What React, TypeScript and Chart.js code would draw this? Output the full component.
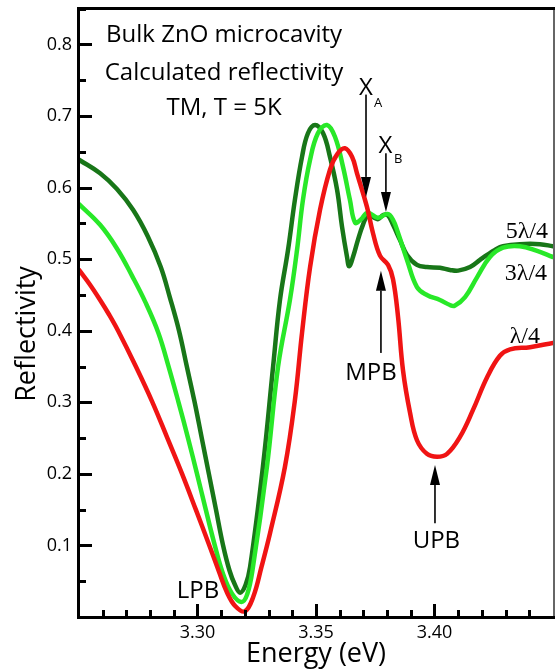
import React, { useEffect, useRef } from "react";
import { Chart, registerables } from "chart.js";

Chart.register(...registerables);

// ---- Data (energy in eV, reflectivity) ----
// 5λ/4 cavity (dark green)
const energy5 = [3.25, 3.2589, 3.266, 3.2728, 3.279, 3.2845, 3.2883, 3.2922, 3.2955, 3.2988, 3.3018, 3.3048, 3.3078, 3.3108, 3.3135, 3.3158, 3.318, 3.3203, 3.3222, 3.3276, 3.3319, 3.3348, 3.3382, 3.3411, 3.3441, 3.3466, 3.3496, 3.353, 3.3559, 3.3589, 3.361, 3.3631, 3.364, 3.3656, 3.3677, 3.3698, 3.372, 3.3745, 3.3762, 3.3785, 3.3804, 3.3825, 3.3854, 3.3884, 3.3926, 3.3968, 3.4023, 3.4065, 3.41, 3.415, 3.4192, 3.4222, 3.4255, 3.4289, 3.436, 3.4445, 3.45];
const refl5 = [0.639, 0.62, 0.598, 0.569, 0.532, 0.489, 0.447, 0.4, 0.35, 0.3, 0.25, 0.2, 0.15, 0.1, 0.065, 0.045, 0.034, 0.045, 0.07, 0.21, 0.35, 0.443, 0.513, 0.583, 0.643, 0.676, 0.6875, 0.676, 0.643, 0.597, 0.545, 0.503, 0.49, 0.503, 0.527, 0.548, 0.562, 0.558, 0.556, 0.562, 0.561, 0.548, 0.527, 0.506, 0.492, 0.489, 0.488, 0.485, 0.484, 0.489, 0.499, 0.506, 0.513, 0.518, 0.521, 0.521, 0.518];

// 3λ/4 cavity (light green)
const energy3 = [3.25, 3.2589, 3.266, 3.2725, 3.278, 3.2835, 3.2878, 3.292, 3.296, 3.2998, 3.3035, 3.3073, 3.3108, 3.3145, 3.3185, 3.321, 3.3234, 3.3293, 3.334, 3.339, 3.342, 3.3445, 3.3475, 3.3508, 3.3546, 3.358, 3.3614, 3.3643, 3.3665, 3.3688, 3.3718, 3.376, 3.3802, 3.3825, 3.3846, 3.3884, 3.3926, 3.3968, 3.4023, 3.4065, 3.4085, 3.4129, 3.418, 3.4234, 3.4289, 3.436, 3.443, 3.45];
const refl3 = [0.577, 0.548, 0.515, 0.476, 0.44, 0.397, 0.35, 0.3, 0.25, 0.2, 0.15, 0.1, 0.06, 0.033, 0.021, 0.032, 0.07, 0.21, 0.35, 0.443, 0.513, 0.583, 0.639, 0.676, 0.6875, 0.671, 0.629, 0.583, 0.551, 0.555, 0.565, 0.558, 0.563, 0.555, 0.537, 0.499, 0.461, 0.45, 0.443, 0.436, 0.435, 0.447, 0.475, 0.503, 0.516, 0.518, 0.512, 0.503];

// λ/4 cavity (red)
const energy1 = [3.25, 3.2545, 3.2589, 3.2628, 3.2665, 3.274, 3.281, 3.2873, 3.2935, 3.2993, 3.305, 3.309, 3.3125, 3.316, 3.32, 3.3235, 3.327, 3.3306, 3.3369, 3.3411, 3.3441, 3.3475, 3.3517, 3.3559, 3.359, 3.3622, 3.3652, 3.3673, 3.3715, 3.374, 3.377, 3.3804, 3.3825, 3.3846, 3.3867, 3.3897, 3.3926, 3.3968, 3.4011, 3.4053, 3.4108, 3.4162, 3.4222, 3.4276, 3.4319, 3.4403, 3.45];
const refl1 = [0.485, 0.465, 0.443, 0.422, 0.4, 0.35, 0.3, 0.25, 0.2, 0.15, 0.1, 0.064, 0.034, 0.015, 0.008, 0.028, 0.07, 0.117, 0.21, 0.303, 0.397, 0.489, 0.569, 0.625, 0.647, 0.655, 0.643, 0.62, 0.573, 0.537, 0.505, 0.492, 0.472, 0.42, 0.345, 0.285, 0.247, 0.228, 0.224, 0.228, 0.252, 0.289, 0.335, 0.365, 0.374, 0.377, 0.383];

const seriesNames = ["λ/4", "3λ/4", "5λ/4"];
const X_MIN = 3.25;
const X_MAX = 3.45;
const Y_MIN = 0;
const Y_MAX = 0.851;
const xMajorStep = 0.05;
const yMajorStep = 0.1;

// arrows: [energy, tail reflectivity, tip reflectivity]
const arrowXA = [3.3711, 0.73, 0.587];
const arrowXB = [3.3795, 0.648, 0.566];
const arrowMPB = [3.3774, 0.369, 0.484];
const arrowUPB = [3.4002, 0.131, 0.2125];

const SANS = "'Open Sans', 'DejaVu Sans', sans-serif";
const SERIF = "'Liberation Serif', 'DejaVu Serif', serif";

const COLORS = ["rgb(240,20,20)", "rgb(40,232,40)", "rgb(24,118,24)"];

const toPts = (xs: number[], ys: number[]) => xs.map((v, i) => ({ x: v, y: ys[i] }));

function drawAxes(chart: any) {
  const ctx = chart.ctx as CanvasRenderingContext2D;
  const ca = chart.chartArea;
  const xs = chart.scales.x;
  const ys = chart.scales.y;
  ctx.save();
  ctx.fillStyle = "#000";
  for (let i = 1; i < 20; i++) {
    const v = X_MIN + i * 0.01;
    const len = i % 5 === 0 ? 13 : 7;
    const p = Math.round(xs.getPixelForValue(v));
    ctx.fillRect(p - 1, Math.round(ca.bottom) - len, 3, len);
  }
  for (let i = 1; i <= 17; i++) {
    const v = i * 0.05;
    if (v > Y_MAX) break;
    const len = i % 2 === 0 ? 13 : 7;
    const p = Math.round(ys.getPixelForValue(v));
    ctx.fillRect(Math.round(ca.left), p - 1, len, 3);
  }
  const L = Math.round(ca.left);
  const T = Math.round(ca.top);
  const R = Math.round(ca.right);
  const B = Math.round(ca.bottom);
  ctx.fillStyle = "#666";
  ctx.fillRect(R, T, 2, B - T);
  ctx.fillStyle = "#000";
  ctx.fillRect(L - 2, T - 1, R - L + 4, 3); // top
  ctx.fillRect(L - 2, T - 1, 3, B - T + 3); // left
  ctx.fillRect(L - 2, B - 1, R - L + 4, 3); // bottom
  ctx.restore();
}

const annotPlugin = {
  id: "annot",
  afterDatasetsDraw(chart: any) {
    drawAxes(chart);
  },
  afterDraw(chart: any) {
    drawAxes(chart);
    const ctx = chart.ctx as CanvasRenderingContext2D;
    const xs = chart.scales.x;
    const ys = chart.scales.y;
    const px = (v: number) => xs.getPixelForValue(v);
    const py = (v: number) => ys.getPixelForValue(v);
    ctx.save();

    // arrows
    const arrow = (a: number[]) => {
      const x = px(a[0]);
      const y1 = py(a[1]);
      const y2 = py(a[2]);
      const dir = y2 > y1 ? 1 : -1;
      const headLen = 20;
      const half = 5;
      ctx.fillStyle = "#000";
      const yStart = Math.min(y1, y2 - dir * headLen);
      const yEnd = Math.max(y1, y2 - dir * headLen);
      ctx.fillRect(x - 0.8, yStart, 1.6, yEnd - yStart);
      ctx.beginPath();
      ctx.moveTo(x, y2);
      ctx.lineTo(x - half, y2 - dir * headLen);
      ctx.lineTo(x + half, y2 - dir * headLen);
      ctx.closePath();
      ctx.fill();
    };
    arrow(arrowXA);
    arrow(arrowXB);
    arrow(arrowMPB);
    arrow(arrowUPB);

    // texts
    ctx.fillStyle = "#000";
    ctx.textBaseline = "alphabetic";
    const txt = (s: string, xv: number, yv: number, align: CanvasTextAlign, font: string) => {
      ctx.font = font;
      ctx.textAlign = align;
      ctx.fillText(s, px(xv), py(yv));
    };
    const f24 = `24px ${SANS}`;
    txt("Bulk ZnO microcavity", 3.3112, 0.8035, "center", f24);
    txt("Calculated reflectivity", 3.3112, 0.7504, "center", f24);
    txt("TM, T = 5K", 3.3112, 0.7015, "center", f24);
    txt("X", 3.3711, 0.7295, "center", f24);
    txt("A", 3.3745, 0.7127, "left", `13px ${SANS}`);
    txt("X", 3.3793, 0.6484, "center", f24);
    txt("B", 3.3829, 0.6344, "left", `13px ${SANS}`);
    txt("MPB", 3.3732, 0.3312, "center", f24);
    txt("UPB", 3.4008, 0.0964, "center", f24);
    txt("LPB", 3.3002, 0.0266, "center", f24);
    const fs = `24px ${SERIF}`;
    txt(seriesNames[2], 3.4479, 0.5296, "right", fs);
    txt(seriesNames[1], 3.4475, 0.4709, "right", fs);
    txt(seriesNames[0], 3.4445, 0.3829, "right", fs);

    // y axis title
    ctx.save();
    ctx.translate(35, py(0.3955));
    ctx.rotate(-Math.PI / 2);
    ctx.font = `27px ${SANS}`;
    ctx.textAlign = "center";
    ctx.fillText("Reflectivity", 0, 0);
    ctx.restore();

    ctx.restore();
  },
};

export default function App() {
  const ref = useRef<HTMLCanvasElement | null>(null);
  useEffect(() => {
    if (!ref.current) return;
    const ds = (label: string, xs: number[], ys: number[], color: string) => ({
      label,
      data: toPts(xs, ys),
      borderColor: color,
      backgroundColor: color,
      borderWidth: 4.5,
      pointRadius: 0,
      fill: false,
      tension: 0.4,
      borderJoinStyle: "round" as const,
      borderCapStyle: "round" as const,
    });
    const chart = new Chart(ref.current, {
      type: "line",
      data: {
        datasets: [
          ds(seriesNames[0], energy1, refl1, COLORS[0]),
          ds(seriesNames[1], energy3, refl3, COLORS[1]),
          ds(seriesNames[2], energy5, refl5, COLORS[2]),
        ],
      },
      options: {
        animation: false,
        responsive: false,
        devicePixelRatio: 1,
        layout: { padding: { top: 8, right: 2, left: 0, bottom: 0 } },
        plugins: { legend: { display: false }, tooltip: { enabled: false } },
        scales: {
          x: {
            type: "linear",
            min: X_MIN,
            max: X_MAX,
            border: { display: false },
            grid: { display: false, drawTicks: false },
            ticks: {
              stepSize: xMajorStep,
              includeBounds: false,
              autoSkip: false,
              maxRotation: 0,
              padding: 5,
              color: "#000",
              font: { size: 18, family: SANS },
              callback: (v: any) => {
                const n = Number(v);
                if (Math.abs(n - X_MIN) < 1e-6 || Math.abs(n - X_MAX) < 1e-6) return "";
                return n.toFixed(2);
              },
            },
            title: {
              display: true,
              text: "Energy (eV)",
              color: "#000",
              font: { size: 27, family: SANS },
              padding: 0,
            },
            afterFit: (s: any) => {
              s.height = 54;
              s.paddingLeft = 0;
              s.paddingRight = 0;
            },
          },
          y: {
            type: "linear",
            min: Y_MIN,
            max: Y_MAX,
            border: { display: false },
            grid: { display: false, drawTicks: false },
            ticks: {
              stepSize: yMajorStep,
              includeBounds: false,
              padding: 7,
              color: "#000",
              font: { size: 18, family: SANS },
              callback: (v: any) => {
                const n = Number(v);
                if (Math.abs(n) < 1e-6) return "";
                return n.toFixed(1);
              },
            },
            afterFit: (s: any) => {
              s.width = 79;
              s.paddingTop = 0;
              s.paddingBottom = 0;
            },
          },
        },
      },
      plugins: [annotPlugin],
    });
    return () => chart.destroy();
  }, []);
  return (
    <div style={{ position: "fixed", left: 0, top: 0, width: 555, height: 671, background: "#fff" }}>
      <canvas ref={ref} width={555} height={671} style={{ display: "block", width: 555, height: 671 }} />
    </div>
  );
}
